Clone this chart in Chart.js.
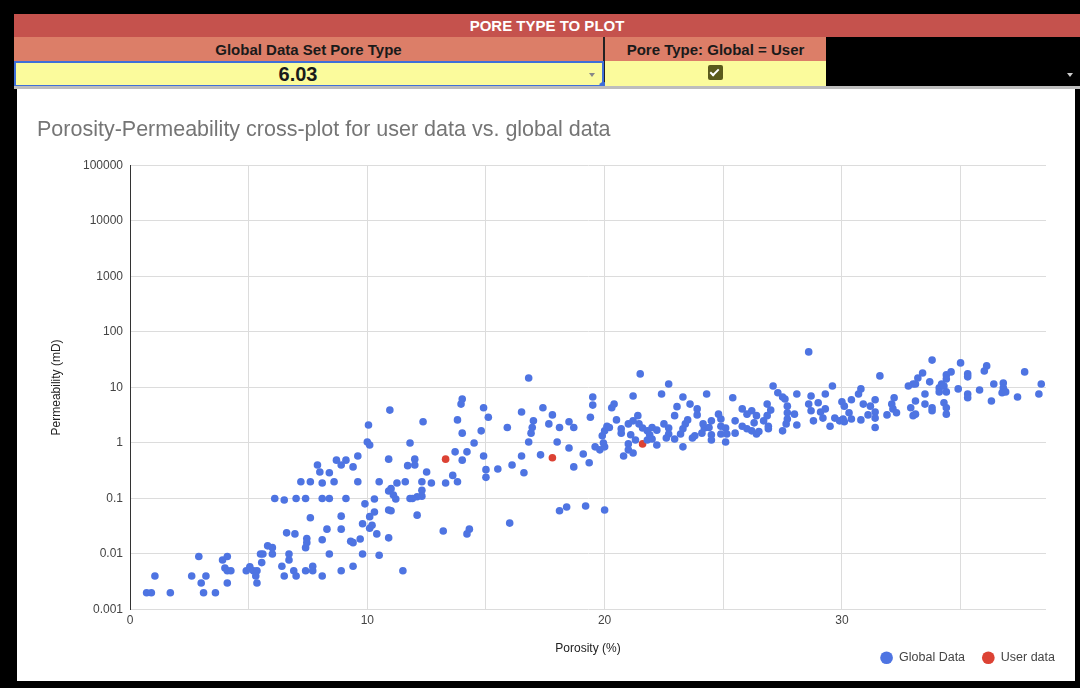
<!DOCTYPE html>
<html>
<head>
<meta charset="utf-8">
<script src="https://cdn.jsdelivr.net/npm/chart.js@4.4.1/dist/chart.umd.min.js"></script>
<style>
  html, body { margin:0; padding:0; background:#000; }
  body { width:1080px; height:688px; position:relative; overflow:hidden; font-family:"Liberation Sans", Arial, sans-serif; }
  .abs { position:absolute; box-sizing:border-box; }
  .cell { display:flex; align-items:center; justify-content:center; color:#1a1a1a; font-weight:bold; font-size:15px; }
  .tri { position:absolute; width:0; height:0; border-left:3px solid transparent; border-right:3px solid transparent; border-top:4px solid #888; }
  #chartCanvas { position:absolute; left:0; top:0; }
</style>
</head>
<body>
  <div class="abs cell" style="left:14px;top:14px;width:1066px;height:23px;background:#c5524d;color:#fff;font-size:15px;">PORE TYPE TO PLOT</div>
  <div class="abs cell" style="left:14px;top:37px;width:589px;height:24px;background:#dc7e68;">Global Data Set Pore Type</div>
  <div class="abs" style="left:603px;top:37px;width:2px;height:50px;background:#222;"></div>
  <div class="abs cell" style="left:605px;top:37px;width:221px;height:24px;background:#dc7e68;">Pore Type: Global = User</div>
  <div class="abs" style="left:826px;top:37px;width:254px;height:50px;background:#000;"></div>
  <div class="abs cell" style="left:14px;top:61px;width:590px;height:26px;background:#fbfb9c;border:2px solid #3f6fd8;font-size:20px;padding-right:22px;">6.03</div>
  <div class="tri" style="left:589px;top:73px;"></div>
  <div class="abs" style="left:599px;top:82px;width:9px;height:9px;border-radius:50%;background:#3f6fd8;"></div>
  <div class="abs" style="left:605px;top:61px;width:221px;height:25px;background:#fbfb9c;"></div>
  <div class="abs" style="left:708px;top:65px;width:15px;height:15px;background:#5a5a1c;border-radius:2px;"></div>
  <div class="abs" style="left:712px;top:67px;width:5px;height:9px;border-right:2px solid #fff;border-bottom:2px solid #fff;transform:rotate(45deg);"></div>
  <div class="tri" style="left:1067px;top:73px;border-top-color:#ccc;"></div>
  <div class="abs" style="left:14px;top:86px;width:1066px;height:3px;background:#bdbdbd;"></div>
  <div class="abs" style="left:17px;top:89px;width:1058px;height:592px;background:#fff;"></div>
  <canvas id="chartCanvas" width="1080" height="688"></canvas>
<script>
// ---- Data ----
const globalPorosity = [
  0.7, 0.9, 1.05, 1.7, 2.6, 2.9, 3.0, 3.1, 3.2, 3.6,
  3.9, 4.1, 4.0, 4.1, 4.25, 4.1, 4.9, 5.05, 5.2, 5.35,
  5.3, 5.35, 5.5, 5.6, 5.55, 5.8, 6.0, 6.0, 6.1, 6.4,
  6.5, 6.5, 6.6, 6.7, 6.7, 6.9, 7.0, 7.0, 7.2, 7.4,
  7.4, 6.95, 7.4, 7.45, 7.45, 7.6, 7.6, 7.7, 7.7, 7.9,
  8.0, 8.1, 8.1, 8.4, 8.1, 8.1, 8.3, 8.4, 8.4, 8.6,
  8.7, 9.1, 8.9, 8.9, 8.9, 8.9, 9.1, 9.3, 9.4, 9.4,
  9.4, 9.6, 9.6, 9.7, 9.8, 9.8, 9.9, 10.0, 10.1, 10.05,
  10.1, 10.1, 10.95, 10.9, 10.5, 10.3, 10.9, 11.0, 11.1, 10.9,
  11.0, 10.3, 10.4, 10.2, 10.9, 10.5, 11.5, 11.2, 12.35, 14.0,
  13.95, 14.9, 15.1, 13.8, 14.0, 14.8, 15.9, 16.5, 11.8, 14.5,
  13.7, 14.2, 14.9, 14.0, 12.0, 12.0, 11.7, 15.0, 15.0, 15.5,
  16.1, 16.5, 16.6, 12.5, 13.6, 12.3, 12.7, 13.3, 13.8, 11.25,
  11.6, 12.3, 12.3, 12.1, 11.8, 11.9, 12.1, 13.2, 14.3, 14.2,
  16.0, 16.8, 21.5, 17.4, 17.8, 17.0, 16.95, 16.9, 17.65, 18.1,
  18.5, 18.7, 19.4, 19.5, 19.5, 16.8, 18.0, 17.3, 18.5, 19.1,
  18.7, 19.35, 18.1, 18.4, 19.2, 20.0, 19.6, 19.8, 20.0, 19.95,
  19.9, 20.0, 20.1, 20.3, 20.4, 20.5, 20.2, 20.7, 20.7, 21.2,
  21.4, 21.0, 21.2, 21.1, 21.0, 21.0, 20.8, 21.2, 21.3, 21.45,
  21.6, 21.8, 22.0, 21.8, 21.9, 22.0, 22.7, 22.4, 23.3, 24.3,
  25.4, 27.1, 27.3, 27.5, 23.05, 22.95, 23.6, 23.9, 23.9, 24.8,
  24.9, 25.8, 26.2, 26.0, 26.85, 27.0, 26.85, 22.2, 22.5, 22.7,
  22.7, 22.2, 22.6, 22.95, 23.2, 23.3, 23.4, 23.5, 23.3, 23.7,
  23.8, 24.1, 24.2, 24.15, 24.5, 24.4, 24.5, 24.5, 24.9, 25.1,
  24.9, 25.15, 25.1, 25.5, 25.5, 25.8, 26.0, 26.2, 26.4, 26.3,
  26.4, 26.7, 26.9, 26.9, 26.5, 28.6, 31.6, 29.6, 30.8, 30.7,
  32.8, 33.0, 28.1, 28.7, 29.3, 27.6, 27.7, 27.7, 27.7, 27.65,
  27.5, 28.0, 28.1, 28.6, 28.7, 28.8, 29.0, 29.1, 29.3, 29.2,
  29.5, 29.7, 30.0, 30.1, 30.05, 30.3, 30.4, 30.4, 29.9, 30.1,
  30.8, 30.9, 31.1, 31.2, 31.4, 31.4, 31.4, 31.4, 31.9, 32.1,
  32.2, 32.15, 32.3, 32.9, 33.0, 33.8, 35.0, 36.1, 36.0, 37.7,
  33.4, 33.2, 33.1, 34.4, 34.4, 34.6, 35.3, 35.3, 33.7, 34.2,
  34.1, 34.1, 34.3, 34.9, 35.3, 35.3, 34.4, 35.8, 36.4, 36.8,
  36.8, 36.75, 36.9, 37.4, 38.4, 38.3, 36.3, 33.1, 33.5, 33.5,
  33.1, 33.8, 33.8, 34.3, 34.4, 34.4
];
const globalPerm = [
  0.002, 0.002, 0.004, 0.002, 0.004, 0.009, 0.003, 0.002, 0.004, 0.002,
  0.0078, 0.009, 0.0056, 0.005, 0.005, 0.003, 0.005, 0.0059, 0.005, 0.005,
  0.004, 0.003, 0.01, 0.01, 0.007, 0.014, 0.013, 0.01, 0.1, 0.006,
  0.094, 0.004, 0.024, 0.01, 0.0078, 0.005, 0.004, 0.1, 0.2, 0.1,
  0.005, 0.023, 0.013, 0.019, 0.016, 0.2, 0.045, 0.005, 0.006, 0.4,
  0.3, 0.19, 0.1, 0.1, 0.018, 0.004, 0.028, 0.29, 0.01, 0.2,
  0.49, 0.49, 0.4, 0.048, 0.028, 0.005, 0.1, 0.017, 0.016, 0.37,
  0.006, 0.58, 0.2, 0.0186, 0.01, 0.035, 0.08, 1.04, 0.92, 2.1,
  0.047, 0.029, 3.9, 0.51, 0.2, 0.098, 0.136, 0.15, 0.115, 0.062,
  0.06, 0.057, 0.023, 0.033, 0.0195, 0.0095, 0.005, 0.098, 2.4, 6.2,
  5.0, 4.3, 2.9, 2.6, 1.5, 1.65, 1.9, 3.6, 1.0, 1.0,
  0.69, 0.69, 0.58, 0.49, 0.51, 0.40, 0.39, 0.33, 0.24, 0.34,
  0.40, 0.58, 0.29, 0.30, 0.26, 0.20, 0.19, 0.19, 0.20, 0.19,
  0.20, 0.14, 0.11, 0.107, 0.10, 0.10, 0.05, 0.026, 0.028, 0.023,
  0.036, 14.8, 17.5, 4.3, 3.2, 2.5, 1.9, 1.5, 2.2, 1.9,
  2.4, 1.9, 2.9, 6.7, 4.8, 1.04, 1.04, 0.61, 0.81, 0.63,
  0.37, 0.44, 0.06, 0.07, 0.073, 0.062, 0.85, 0.75, 0.85, 1.0,
  1.34, 1.65, 2.0, 4.3, 5.0, 2.6, 1.9, 1.8, 1.5, 7.0,
  3.1, 2.2, 2.5, 1.4, 0.96, 0.75, 0.58, 0.66, 1.13, 2.2,
  1.86, 1.65, 1.9, 1.13, 1.4, 1.18, 11.5, 7.6, 6.7, 7.6,
  6.5, 10.6, 8.0, 6.7, 4.5, 3.1, 5.0, 4.1, 3.2, 3.3,
  2.7, 4.1, 3.8, 3.3, 5.0, 3.9, 3.1, 1.7, 2.2, 1.86,
  1.45, 0.92, 1.23, 1.18, 1.45, 1.8, 2.2, 2.6, 0.85, 1.23,
  1.34, 1.5, 1.86, 2.2, 2.5, 1.9, 1.4, 1.13, 2.0, 1.86,
  1.45, 1.45, 1.04, 2.5, 1.5, 2.0, 1.8, 1.65, 1.45, 2.3,
  3.1, 2.5, 2.0, 1.8, 1.6, 43.6, 16.1, 10.6, 9.4, 7.6,
  10.6, 11.5, 7.6, 7.0, 7.6, 6.2, 4.6, 3.5, 2.7, 2.2,
  1.65, 3.3, 2.1, 5.0, 3.8, 2.5, 5.3, 3.6, 4.1, 2.8,
  2.0, 2.8, 5.5, 4.6, 2.7, 3.5, 6.0, 2.7, 2.5, 2.4,
  2.6, 5.0, 3.2, 4.6, 6.0, 3.6, 2.8, 1.9, 3.2, 5.0,
  6.5, 4.1, 3.5, 4.3, 3.1, 31, 27.6, 24.4, 19.8, 19.0,
  18.2, 14.8, 11.5, 16.8, 14.2, 19.0, 17.5, 15.5, 12.6, 11.5,
  9.8, 8.3, 10.6, 9.4, 7.6, 6.5, 8.3, 9.0, 11.5, 12.0,
  9.8, 8.0, 8.3, 6.7, 11.5, 7.6, 5.7, 5.7, 7.6, 5.0,
  3.3, 4.3, 3.8, 5.3, 4.3, 3.3
];
const userPorosity = [13.3, 17.8, 21.6];
const userPerm = [0.51, 0.54, 0.96];
const xTickStep = 5;
const yTickValues = [0.001, 0.01, 0.1, 1, 10, 100, 1000, 10000, 100000];

// ---- Chart ----
const FONT = '"Liberation Sans", Arial, sans-serif';
Chart.defaults.font.family = FONT;

const legendNudge = {
  id: 'legendNudge',
  afterLayout(chart) {
    const l = chart.legend;
    if (!l) return;
    const dx = 26, dy = -5;
    l.left += dx; l.right += dx; l.top += dy; l.bottom += dy;
  }
};

new Chart(document.getElementById('chartCanvas'), {
  type: 'scatter',
  data: {
    datasets: [
      {
        label: 'Global Data',
        data: globalPorosity.map((x, i) => ({ x, y: globalPerm[i] })),
        backgroundColor: '#4e74e2',
        borderWidth: 0,
        pointRadius: 3.8,
        pointHoverRadius: 3.8
      },
      {
        label: 'User data',
        data: userPorosity.map((x, i) => ({ x, y: userPerm[i] })),
        backgroundColor: '#dc4234',
        borderWidth: 0,
        pointRadius: 3.8,
        pointHoverRadius: 3.8
      }
    ]
  },
  options: {
    responsive: false,
    animation: false,
    devicePixelRatio: 1,
    layout: { padding: { left: 37, right: 34, top: 100, bottom: 9 } },
    plugins: {
      title: {
        display: true,
        text: 'Porosity-Permeability cross-plot for user data vs. global data',
        align: 'start',
        color: '#757575',
        font: { size: 21.5, weight: 'normal', family: FONT },
        padding: { top: 17.5, bottom: 22 }
      },
      legend: {
        position: 'bottom',
        align: 'end',
        labels: {
          usePointStyle: true,
          pointStyle: 'circle',
          boxWidth: 13,
          boxHeight: 9,
          padding: 17,
          color: '#444',
          font: { size: 12.5, family: FONT }
        }
      },
      tooltip: { enabled: false }
    },
    scales: {
      x: {
        type: 'linear',
        min: 0,
        max: 38.6,
        ticks: {
          stepSize: xTickStep,
          includeBounds: false,
          autoSkip: false,
          maxRotation: 0,
          padding: 4,
          color: '#444',
          font: { size: 12, family: FONT },
          callback: v => (v % 10 === 0 ? String(v) : '')
        },
        grid: { color: '#dcdcdc', drawTicks: false },
        border: { display: false },
        title: {
          display: true,
          text: 'Porosity (%)',
          color: '#222',
          font: { size: 12, family: FONT },
          padding: { top: 0, bottom: -16.6 }
        },
        afterFit: s => { s.height = 30; }
      },
      y: {
        type: 'logarithmic',
        min: 0.001,
        max: 100000,
        afterBuildTicks: s => { s.ticks = yTickValues.map(v => ({ value: v })); },
        ticks: {
          padding: 7,
          color: '#444',
          font: { size: 12, family: FONT },
          callback: v => String(v)
        },
        grid: { color: '#dcdcdc', drawTicks: false },
        border: { color: '#333', width: 1 },
        title: {
          display: true,
          text: 'Permeability (mD)',
          color: '#222',
          font: { size: 12, family: FONT },
          padding: { top: 12.4, bottom: 0 }
        },
        afterFit: s => { s.width = 93; }
      }
    }
  },
  plugins: [legendNudge]
});
</script>
</body>
</html>
